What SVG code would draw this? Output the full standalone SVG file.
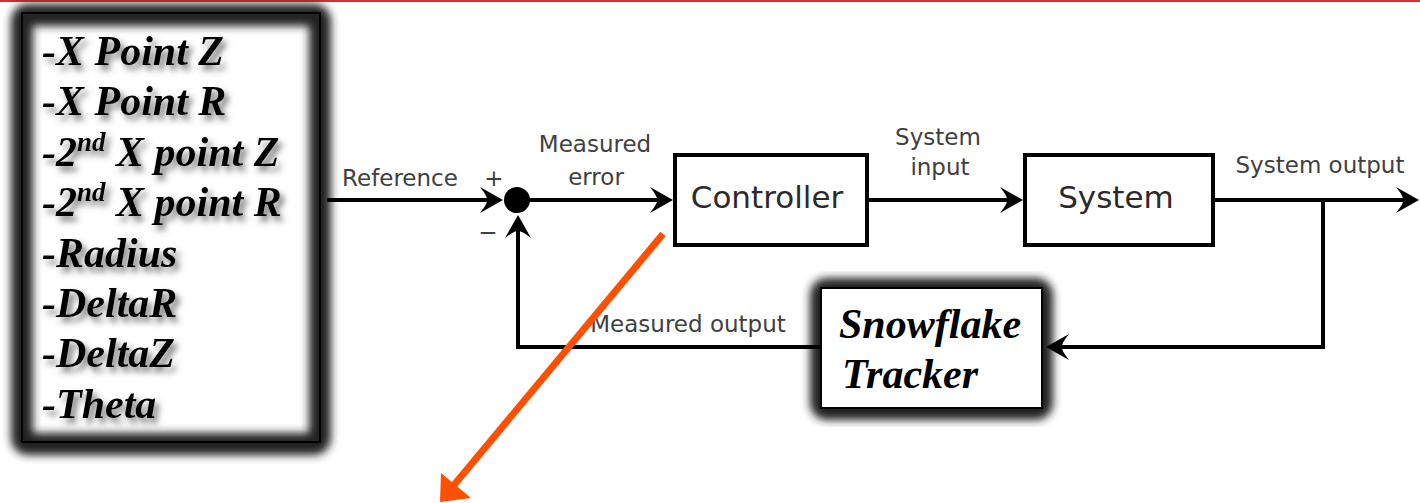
<svg xmlns="http://www.w3.org/2000/svg" width="1420" height="503" viewBox="0 0 1420 503">
  <style>
    .lbl { font-family: "DejaVu Sans", sans-serif; font-size: 23px; fill: #404040; text-anchor: middle; }
    .box-lbl { font-family: "DejaVu Sans", sans-serif; font-size: 31px; fill: #2a2a2a; text-anchor: middle; }
    .box { fill: #ffffff; stroke: #000000; stroke-width: 4; }
    .wire { fill: none; stroke: #000000; stroke-width: 4; }
    .param { font-family: "Liberation Serif", "Times New Roman", serif; font-size: 42px; font-weight: bold; font-style: italic; fill: #000000; }
    .halo { fill: none; stroke: #222222; stroke-width: 22; }
    .edge { fill: none; stroke: #000000; stroke-width: 2; }
  </style>
  <defs>
    <filter id="soft" x="-15%" y="-15%" width="130%" height="130%">
      <feGaussianBlur stdDeviation="4.5"/>
    </filter>
    <filter id="textShadow" x="-10%" y="-30%" width="130%" height="170%">
      <feDropShadow dx="4" dy="5" stdDeviation="3" flood-color="#4a4a4a" flood-opacity="0.75"/>
    </filter>
    <marker id="head" viewBox="-26 -15 30 30" markerWidth="30" markerHeight="30" refX="-4" refY="0" orient="auto" markerUnits="userSpaceOnUse">
      <path d="M0,0 L-23,-13 Q-15,-3 -16,0 Q-15,3 -23,13 Z" fill="#000000"/>
    </marker>
  </defs>

  <!-- top rule -->
  <rect x="0" y="0" width="1420" height="2" fill="#d0312d"/>

  <!-- parameter list box -->
  <g id="params">
    <rect x="22" y="13" width="298" height="429" fill="#ffffff"/>
    <rect class="halo" x="22" y="15" width="298" height="429" rx="6" filter="url(#soft)"/>
    <rect class="edge" x="22" y="13" width="298" height="429"/>
    <g class="param" filter="url(#textShadow)">
      <text x="42" y="65">-X Point Z</text>
      <text x="42" y="115">-X Point R</text>
      <text x="42" y="166">-2<tspan font-size="27" dy="-15">nd</tspan><tspan dy="15"> X point Z</tspan></text>
      <text x="42" y="216">-2<tspan font-size="27" dy="-15">nd</tspan><tspan dy="15"> X point R</tspan></text>
      <text x="42" y="267">-Radius</text>
      <text x="42" y="317">-DeltaR</text>
      <text x="42" y="367">-DeltaZ</text>
      <text x="42" y="418">-Theta</text>
    </g>
  </g>

  <!-- summing junction -->
  <g id="sum">
    <circle cx="517" cy="200" r="13" fill="#000000"/>
    <text class="lbl" x="494" y="186">+</text>
    <text class="lbl" x="488" y="240">−</text>
  </g>

  <!-- controller -->
  <g id="controller">
    <rect class="box" x="675" y="155" width="192" height="90"/>
    <text class="box-lbl" x="767" y="208">Controller</text>
  </g>

  <!-- plant -->
  <g id="system">
    <rect class="box" x="1025" y="155" width="188" height="90"/>
    <text class="box-lbl" x="1116" y="208">System</text>
  </g>

  <!-- tracker in the feedback path -->
  <g id="tracker">
    <rect class="halo" x="821" y="289" width="221" height="120" rx="6" filter="url(#soft)"/>
    <rect x="821" y="288" width="221" height="120" fill="#ffffff"/>
    <rect class="edge" x="821" y="288" width="221" height="120"/>
    <g class="param">
      <text x="839" y="338">Snowflake</text>
      <text x="842" y="388">Tracker</text>
    </g>
  </g>

  <!-- signal labels -->
  <g id="labels">
    <text class="lbl" x="400" y="186">Reference</text>
    <text class="lbl" x="595" y="152">Measured</text>
    <text class="lbl" x="596" y="185">error</text>
    <text class="lbl" x="938" y="145">System</text>
    <text class="lbl" x="940" y="175">input</text>
    <text class="lbl" x="1320" y="173">System output</text>
    <text class="lbl" x="688" y="332">Measured output</text>
  </g>

  <!-- connectors -->
  <g id="connectors">
    <path class="wire" d="M327,200 H499" marker-end="url(#head)"/>
    <path class="wire" d="M528,200 H669" marker-end="url(#head)"/>
    <path class="wire" d="M867,200 H1019" marker-end="url(#head)"/>
    <path class="wire" d="M1213,200 H1415" marker-end="url(#head)"/>
    <path class="wire" d="M1323,200 V347 H1050" marker-end="url(#head)"/>
    <path class="wire" d="M821,347 H518 V219" marker-end="url(#head)"/>
  </g>

  <!-- orange pointer -->
  <g id="pointer">
    <line x1="663" y1="234" x2="454" y2="485" stroke="#ff5000" stroke-width="7"/>
    <polygon points="440,502 441,473 471,498" fill="#ff5000"/>
  </g>
</svg>
